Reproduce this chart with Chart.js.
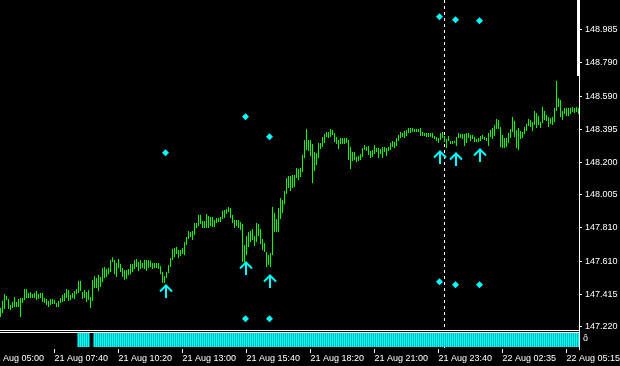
<!DOCTYPE html>
<html><head><meta charset="utf-8">
<script src="https://cdn.jsdelivr.net/npm/chart.js@4.4.1/dist/chart.umd.min.js"></script>
<style>
html,body{margin:0;padding:0;background:#000;}
#wrap{position:relative;width:620px;height:366px;background:#000;overflow:hidden;}
canvas{display:block;position:absolute;left:0;}
#main{top:0;}
#sub{top:330px;}
</style></head><body>
<div id="wrap"><canvas id="main" width="620" height="330"></canvas><canvas id="sub" width="620" height="36"></canvas></div>
<script>
// ---- data (5-minute bars) ----
const highs = [
147.332,147.374,147.416,147.404,147.386,147.350,147.368,147.398,147.368,147.386,
147.392,147.392,147.446,147.446,147.422,147.428,147.416,147.422,147.434,147.416,
147.422,147.422,147.392,147.386,147.374,147.386,147.386,147.380,147.362,147.374,
147.392,147.410,147.422,147.446,147.440,147.410,147.422,147.434,147.446,147.493,
147.493,147.428,147.440,147.428,147.440,147.398,147.499,147.523,147.511,147.529,
147.517,147.570,147.576,147.564,147.570,147.618,147.635,147.618,
147.600,147.624,147.594,147.570,147.558,147.558,147.564,147.594,147.594,147.618,
147.624,147.606,147.618,147.600,147.618,147.618,147.618,147.612,147.600,147.600,
147.600,147.600,147.582,147.546,147.523,147.546,147.588,147.630,147.683,147.689,
147.695,147.677,147.677,147.689,147.725,147.755,147.790,147.784,147.790,147.838,
147.838,147.885,147.885,147.850,147.850,147.891,147.879,147.874,147.874,147.856,
147.868,147.868,147.874,147.909,147.915,147.921,147.933,147.927,
147.885,147.856,147.856,147.856,147.844,147.832,147.707,147.761,147.784,147.790,
147.802,147.761,147.838,147.832,147.802,147.743,147.719,147.665,147.647,147.659,
147.933,147.897,147.862,147.927,147.986,147.974,148.028,148.105,148.117,148.117,
148.123,148.123,148.165,148.159,148.165,148.242,148.331,148.396,148.331,148.331,
148.307,148.260,148.254,148.313,148.313,148.349,148.367,148.378,148.378,148.396,
148.390,148.372,148.349,148.331,148.343,148.343,148.343,148.343,
148.331,148.290,148.260,148.260,148.230,148.236,148.248,148.284,148.301,148.290,
148.296,148.266,148.272,148.301,148.284,148.284,148.278,148.290,148.290,148.284,
148.290,148.313,148.325,148.319,148.343,148.361,148.378,148.372,148.384,148.390,
148.402,148.402,148.402,148.396,148.396,148.396,148.402,148.378,148.372,148.372,
148.372,148.372,148.372,148.355,148.349,148.343,148.372,148.378,148.355,148.337,
148.355,148.325,148.325,148.325,148.349,148.372,148.367,148.367,
148.367,148.372,148.372,148.361,148.361,148.349,148.337,148.343,148.355,148.361,
148.349,148.343,148.372,148.390,148.402,148.420,148.456,148.450,148.408,148.361,
148.343,148.343,148.372,148.396,148.467,148.444,148.390,148.402,148.384,148.378,
148.408,148.426,148.456,148.450,148.438,148.503,148.491,148.473,148.438,148.527,
148.503,148.479,148.467,148.462,148.467,148.521,148.682,148.581,148.569,148.503,
148.521,148.521,148.521,148.521,148.527,148.521,148.527,148.521
];
const lows = [
147.279,147.303,147.327,147.380,147.327,147.321,147.332,147.338,147.338,147.338,
147.279,147.362,147.380,147.392,147.392,147.392,147.392,147.392,147.380,147.386,
147.392,147.368,147.362,147.350,147.338,147.350,147.356,147.356,147.338,147.338,
147.362,147.368,147.374,147.392,147.374,147.380,147.392,147.386,147.416,147.422,
147.434,147.386,147.392,147.368,147.380,147.332,147.374,147.452,147.452,147.434,
147.458,147.487,147.511,147.517,147.534,147.546,147.606,147.534,
147.517,147.570,147.546,147.517,147.499,147.505,147.528,147.534,147.546,147.564,
147.576,147.552,147.564,147.570,147.564,147.552,147.570,147.576,147.564,147.570,
147.570,147.564,147.534,147.481,147.481,147.511,147.540,147.576,147.618,147.635,
147.653,147.630,147.641,147.653,147.647,147.707,147.743,147.755,147.737,147.767,
147.808,147.820,147.832,147.808,147.808,147.808,147.808,147.820,147.814,147.814,
147.838,147.844,147.844,147.862,147.868,147.891,147.903,147.868,
147.838,147.808,147.820,147.808,147.796,147.606,147.606,147.647,147.695,147.725,
147.737,147.701,147.725,147.761,147.713,147.677,147.665,147.576,147.588,147.576,
147.647,147.784,147.784,147.784,147.862,147.897,147.950,148.010,148.046,148.028,
148.046,148.052,148.105,148.093,148.111,148.141,148.224,148.272,148.266,148.236,
148.075,148.147,148.182,148.224,148.278,148.290,148.313,148.349,148.343,148.349,
148.361,148.319,148.307,148.278,148.307,148.307,148.307,148.313,
148.212,148.159,148.206,148.212,148.200,148.206,148.212,148.230,148.272,148.266,
148.242,148.224,148.230,148.248,148.260,148.224,148.248,148.224,148.260,148.236,
148.266,148.272,148.290,148.284,148.296,148.325,148.343,148.349,148.343,148.355,
148.372,148.372,148.378,148.378,148.378,148.378,148.355,148.355,148.355,148.349,
148.349,148.349,148.343,148.337,148.325,148.313,148.331,148.343,148.319,148.284,
148.325,148.307,148.307,148.313,148.296,148.343,148.343,148.337,
148.296,148.313,148.343,148.325,148.337,148.319,148.319,148.319,148.325,148.337,
148.331,148.325,148.296,148.349,148.337,148.355,148.396,148.396,148.290,148.284,
148.284,148.290,148.313,148.343,148.378,148.349,148.284,148.272,148.337,148.343,
148.367,148.384,148.414,148.408,148.384,148.420,148.402,148.420,148.402,148.432,
148.450,148.444,148.408,148.426,148.420,148.438,148.503,148.527,148.467,148.450,
148.485,148.473,148.473,148.485,148.497,148.491,148.497,148.485
];
const priceTickLabels = ['147.220','147.415','147.610','147.810','148.005','148.200','148.395','148.590','148.790','148.985'];
const topCutLabel = '149.180';
const timeTickIndex = [-5, 27, 59, 91, 123, 155, 187, 219, 251, 283];
const timeTickLabels = ['21 Aug 05:00','21 Aug 07:40','21 Aug 10:20','21 Aug 13:00','21 Aug 15:40','21 Aug 18:20','21 Aug 21:00','21 Aug 23:40','22 Aug 02:35','22 Aug 05:15'];
const upperDiamondX = [82.5, 122.5, 134.5, 219.5, 227.5, 239.5];
const upperDiamondY = [148.255, 148.469, 148.350, 149.063, 149.045, 149.039];
const lowerDiamondX = [122.5, 134.5, 219.5, 227.5, 239.5];
const lowerDiamondY = [147.269, 147.269, 147.489, 147.471, 147.471];
const arrowX = [82.5, 122.5, 134.5, 219.5, 227.5, 239.5];
const arrowY = [147.434, 147.571, 147.493, 148.230, 148.218, 148.242];
const signalRuns = [[39, 44], [47, 289]];
const separatorIndex = 222;
const priceMin = 147.202, priceMax = 149.163;
const indexMin = -0.25, indexMax = 289.25;

// ---- chart building ----
const FONT = "'Liberation Sans', Arial, sans-serif";
Chart.defaults.font.family = FONT;
Chart.defaults.font.size = 9;
Chart.defaults.color = '#ffffff';

const barData = highs.map((h, i) => ({x: i, y: [lows[i], h]}));
const diamondData = upperDiamondX.map((x, i) => ({x, y: upperDiamondY[i]}))
  .concat(lowerDiamondX.map((x, i) => ({x, y: lowerDiamondY[i]})));
const arrowData = arrowX.map((x, i) => ({x, y: arrowY[i]}));
const signalData = [];
signalRuns.forEach(([a, b]) => { for (let i = a; i <= b; i++) signalData.push({x: i, y: 1}); });

function makeArrow() {
  const c = document.createElement('canvas');
  c.width = 15; c.height = 14;
  const g = c.getContext('2d');
  g.strokeStyle = '#00ffff';
  g.lineWidth = 2;
  g.beginPath(); g.moveTo(2, 7.5); g.lineTo(8, 1.5); g.lineTo(14, 7.5); g.stroke();
  g.beginPath(); g.moveTo(8, 2); g.lineTo(8, 14); g.stroke();
  return c;
}
const arrowImg = makeArrow();

const mainDecor = {
  id: 'mainDecor',
  beforeDatasetsDraw(chart) {
    const {ctx, chartArea, scales} = chart;
    const x = Math.floor(scales.x.getPixelForValue(separatorIndex)) + 0.5;
    ctx.save();
    ctx.strokeStyle = '#ffffff'; ctx.lineWidth = 1; ctx.setLineDash([3, 3]);
    ctx.beginPath(); ctx.moveTo(x, chartArea.top); ctx.lineTo(x, chartArea.bottom); ctx.stroke();
    ctx.restore();
  },
  afterDraw(chart) {
    const {ctx, chartArea, scales} = chart;
    ctx.save();
    ctx.fillStyle = '#ffffff';
    ctx.fillRect(chartArea.right - 2, 0, 3, 76);
    // label of the next grid level, cut by the top edge
    const y = scales.y.getPixelForValue(parseFloat(topCutLabel));
    ctx.font = '9px ' + FONT;
    ctx.textBaseline = 'middle';
    ctx.textAlign = 'left';
    ctx.fillText(topCutLabel, chartArea.right + 6, y);
    ctx.restore();
  }
};

new Chart(document.getElementById('main'), {
  type: 'bar',
  data: { datasets: [
    { type: 'bar', data: barData, backgroundColor: '#00ff00', barThickness: 1, inflateAmount: 0, borderWidth: 0, order: 3 },
    { type: 'scatter', data: arrowData, pointStyle: arrowImg, pointRadius: 7, order: 2 },
    { type: 'scatter', data: diamondData, pointStyle: 'rectRot', pointRadius: 3.5, backgroundColor: '#00ffff', borderWidth: 0, order: 1 }
  ]},
  options: {
    responsive: false, animation: false, events: [],
    layout: { padding: 0, autoPadding: false },
    plugins: { legend: { display: false }, tooltip: { enabled: false } },
    scales: {
      x: { type: 'linear', min: indexMin, max: indexMax, offset: false, display: false },
      y: {
        type: 'linear', position: 'right', min: priceMin, max: priceMax,
        afterBuildTicks: s => { s.ticks = priceTickLabels.map(t => ({ value: parseFloat(t) })); },
        afterFit: s => { s.width = 41; s.paddingTop = 0; s.paddingBottom = 0; },
        ticks: { color: '#ffffff', padding: 3, autoSkip: false, callback: (v, i) => priceTickLabels[i] },
        grid: { drawOnChartArea: false, color: '#ffffff', tickLength: 3 },
        border: { color: '#ffffff', width: 1 }
      }
    }
  },
  plugins: [mainDecor]
});

const subDecor = {
  id: 'subDecor',
  beforeDatasetsDraw(chart) {
    const {ctx, chartArea, scales} = chart;
    const x = Math.floor(scales.x.getPixelForValue(separatorIndex)) + 0.5;
    ctx.save();
    ctx.strokeStyle = '#ffffff'; ctx.lineWidth = 1; ctx.setLineDash([3, 3]);
    ctx.beginPath(); ctx.moveTo(x, chartArea.top); ctx.lineTo(x, chartArea.bottom); ctx.stroke();
    ctx.restore();
  },
  afterDraw(chart) {
    const {ctx, chartArea} = chart;
    ctx.save();
    ctx.fillStyle = '#ffffff';
    ctx.fillRect(0, 0, chartArea.right + 1, 1);
    ctx.fillRect(0, 2, chartArea.right + 1, 1);
    ctx.fillRect(chartArea.right, 0, 1, chartArea.bottom);
    ctx.font = '9px ' + FONT;
    ctx.textBaseline = 'top';
    ctx.fillText('ô', chartArea.right + 4, chartArea.top + 1);
    ctx.restore();
  }
};

new Chart(document.getElementById('sub'), {
  type: 'bar',
  data: { datasets: [
    { data: signalData, backgroundColor: '#00ffff', barThickness: 2, inflateAmount: 0, borderWidth: 0 }
  ]},
  options: {
    responsive: false, animation: false, events: [],
    layout: { padding: { top: 3, left: 0, right: 0, bottom: 0 }, autoPadding: false },
    plugins: { legend: { display: false }, tooltip: { enabled: false } },
    scales: {
      x: {
        type: 'linear', min: indexMin, max: indexMax, offset: false, position: 'bottom',
        afterBuildTicks: s => { s.ticks = timeTickIndex.map(v => ({ value: v })); },
        afterFit: s => { s.height = 17; s.paddingLeft = 0; s.paddingRight = 0; },
        ticks: { color: '#ffffff', align: 'start', autoSkip: false, maxRotation: 0, minRotation: 0, padding: 0,
                 callback: (v, i) => timeTickLabels[i] },
        grid: { drawOnChartArea: false, color: '#ffffff', tickLength: 4, offset: false },
        border: { display: false }
      },
      y: {
        type: 'linear', position: 'right', min: -0.14, max: 1,
        afterFit: s => { s.width = 41; s.paddingTop = 0; s.paddingBottom = 0; },
        ticks: { display: false }, grid: { display: false },
        border: { color: '#ffffff', width: 1 }
      }
    }
  },
  plugins: [subDecor]
});
</script>
</body></html>
